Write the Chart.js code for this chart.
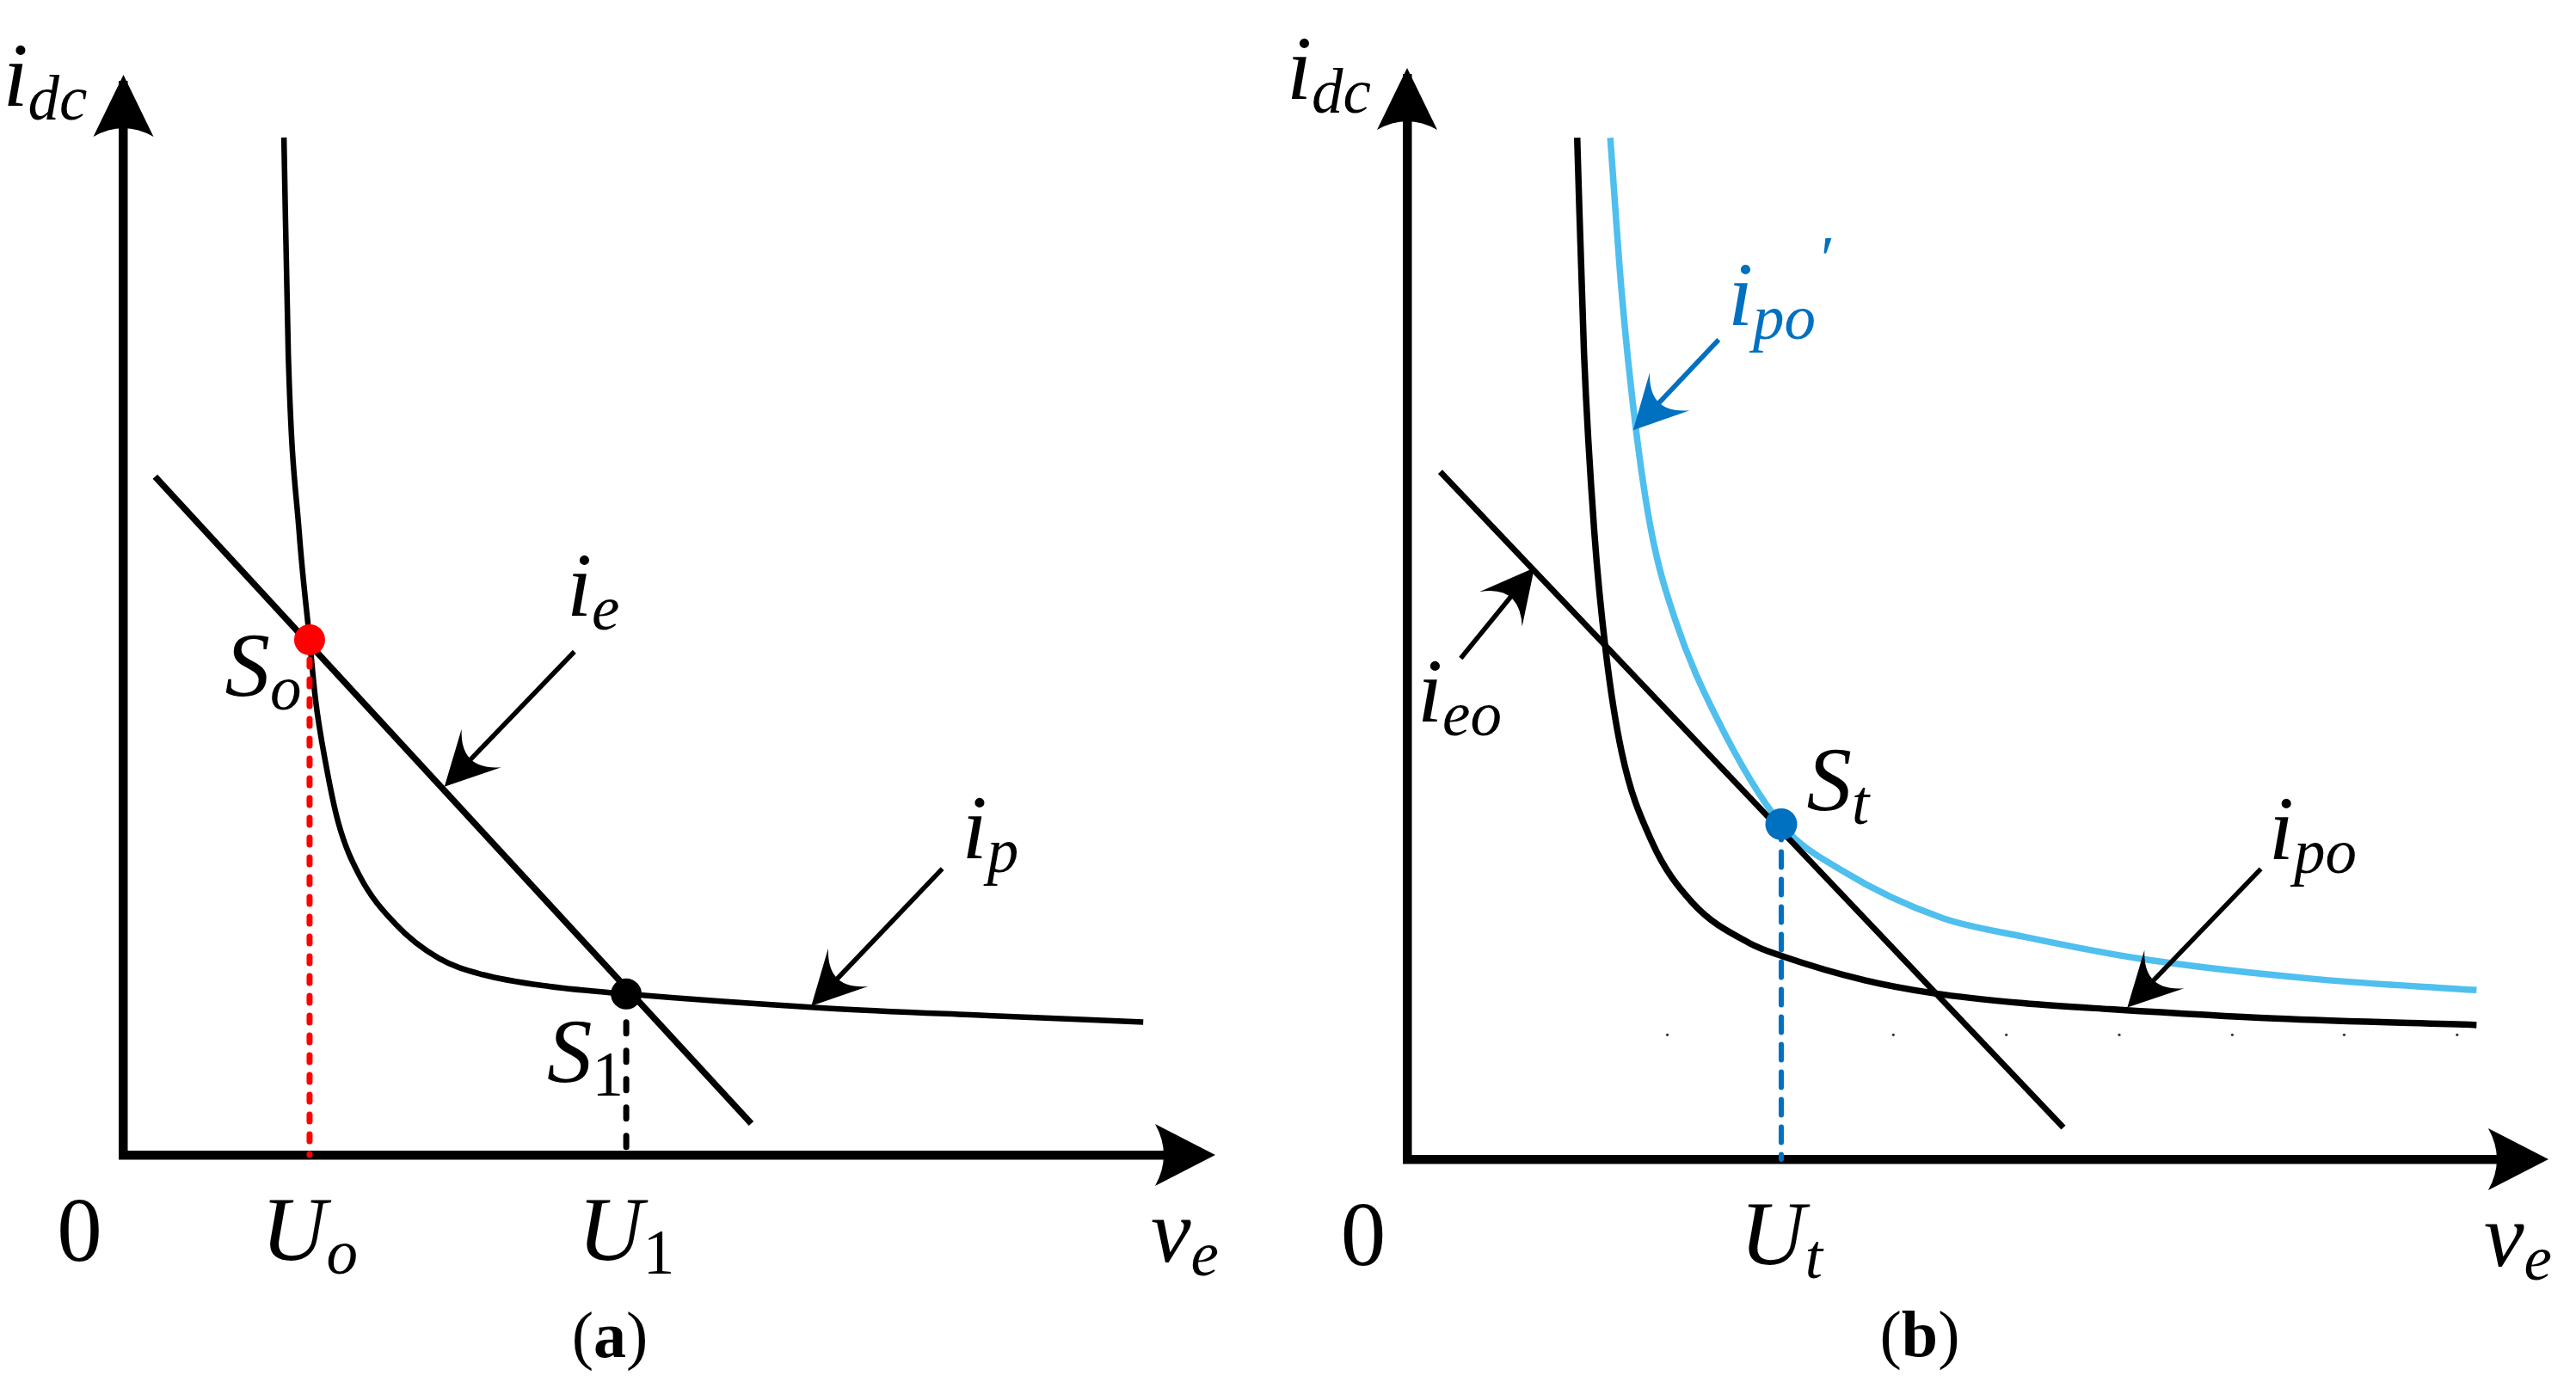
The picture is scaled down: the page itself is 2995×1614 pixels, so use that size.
<!DOCTYPE html>
<html><head><meta charset="utf-8">
<script src="https://cdn.jsdelivr.net/npm/chart.js@4.4.1/dist/chart.umd.min.js"></script>
<style>
html,body{margin:0;padding:0;background:#fff;overflow:hidden;}
#wrap{position:relative;width:2995px;height:1614px;background:#fff;}
canvas{position:absolute;top:0;}
</style></head><body>
<div id="wrap">
<canvas id="ca" width="1497" height="1614" style="left:0px"></canvas>
<canvas id="cb" width="1498" height="1614" style="left:1497px"></canvas>
</div>
<script>
// ================= DATA =================
// Panel (a)
const aIpX = [1.47, 1.51, 1.61, 1.705, 1.76, 1.85, 1.97, 2.16, 2.49, 2.89, 3.29, 3.90, 4.605, 6.42, 7.92, 9.34];
const aIpY = [9.42, 7.41, 5.76, 4.77, 4.21, 3.64, 3.07, 2.59, 2.14, 1.82, 1.67, 1.56, 1.49, 1.36, 1.29, 1.23];
const aIeX = [0.29, 5.75];
const aIeY = [6.28, 0.29];
const aPointNames = ['S_o', 'S_1'];
const aPointX = [1.705, 4.605];
const aPointY = [4.77, 1.49];
const aTickVals = [1.705, 4.605];
const aTickLabels = ['U_o', 'U_1'];

// Panel (b)
const bIpoX = [1.49, 1.55, 1.64, 1.74, 1.88, 2.14, 2.50, 3.00, 3.29, 4.01, 4.62, 5.40, 6.16, 7.60, 9.37];
const bIpoY = [9.36, 7.38, 5.75, 4.66, 3.73, 2.92, 2.35, 1.98, 1.86, 1.64, 1.52, 1.43, 1.375, 1.29, 1.23];
const bIpoPX = [1.78, 1.88, 2.00, 2.14, 2.35, 2.71, 3.278, 3.82, 4.69, 5.40, 6.41, 7.97, 9.37];
const bIpoPY = [9.36, 7.94, 6.73, 5.75, 4.94, 4.05, 3.07, 2.64, 2.21, 2.04, 1.84, 1.65, 1.55];
const bIeoX = [0.29, 5.75];
const bIeoY = [6.30, 0.29];
const bPointNames = ['S_t'];
const bPointX = [3.278];
const bPointY = [3.07];
const bTickVals = [3.278];
const bTickLabels = ['U_t'];
const bDotsX = [2.28, 4.26, 5.25, 6.24, 7.23, 8.21, 9.20];
const bDotsY = [1.14, 1.14, 1.14, 1.14, 1.14, 1.14, 1.14];

const axisLabels = { x: 'v_e', y: 'i_dc', origin: '0' };

// ================= helpers =================
const SERIF = '"Liberation Serif","Times New Roman",serif';
const MAIN = 105, SUB = 73, SUBDROP = 16;
function fnt(size, italic, bold) { return (italic ? 'italic ' : '') + (bold ? 'bold ' : '') + size + 'px ' + SERIF; }
function isNum(s) { return /^[0-9]+$/.test(s); }
function zip(xs, ys) { return xs.map((x, i) => ({ x: x, y: ys[i] })); }
function split(label) { const p = label.split('_'); return { main: p[0], sub: p[1] || '' }; }

function drawLabel(ctx, x, y, label, opt) {
  opt = opt || {};
  const { main, sub } = split(label);
  ctx.save();
  ctx.fillStyle = opt.color || '#000';
  ctx.textBaseline = 'alphabetic';
  ctx.textAlign = 'left';
  ctx.font = fnt(MAIN, !isNum(main));
  const wm = ctx.measureText(main).width;
  ctx.font = fnt(SUB, !isNum(sub));
  const ws = sub ? ctx.measureText(sub).width : 0;
  const total = wm + ws;
  let x0 = x;
  if (opt.align === 'center') x0 = x - total / 2;
  else if (opt.align === 'right') x0 = x - total;
  ctx.font = fnt(MAIN, !isNum(main));
  ctx.fillText(main, x0, y);
  if (sub) {
    ctx.font = fnt(SUB, !isNum(sub));
    ctx.fillText(sub, x0 + wm, y + SUBDROP);
  }
  if (opt.prime) {
    ctx.font = fnt(SUB, false);
    ctx.fillText('\u2032', x0 + total + 6, y - 52);
  }
  ctx.restore();
}

function arrowHead(ctx, tx, ty, ux, uy, len, half, notch) {
  const bx = tx - ux * len, by = ty - uy * len;
  const px = -uy, py = ux;
  const c = 2 * notch - len;
  ctx.beginPath();
  ctx.moveTo(tx, ty);
  ctx.lineTo(bx + px * half, by + py * half);
  ctx.quadraticCurveTo(tx - ux * c, ty - uy * c, bx - px * half, by - py * half);
  ctx.closePath();
  ctx.fill();
}

function annArrow(ctx, x1, y1, x2, y2, color) {
  const dx = x2 - x1, dy = y2 - y1, L = Math.hypot(dx, dy);
  const ux = dx / L, uy = dy / L;
  ctx.save();
  ctx.strokeStyle = color; ctx.fillStyle = color;
  ctx.lineWidth = 5.5; ctx.lineCap = 'butt';
  ctx.beginPath(); ctx.moveTo(x1, y1); ctx.lineTo(x2 - ux * 40, y2 - uy * 40); ctx.stroke();
  arrowHead(ctx, x2, y2, ux, uy, 62, 32, 44);
  ctx.restore();
}

// Decorations: axis arrowheads, axis labels, annotations, caption
function decoPlugin(cfg) {
  return {
    id: 'deco',
    afterDraw(chart) {
      const ctx = chart.ctx, xs = chart.scales.x, ys = chart.scales.y;
      const X = v => xs.getPixelForValue(v), Y = v => ys.getPixelForValue(v);
      const ox = X(0), oy = Y(0), tipX = X(10), tipY = Y(10);
      ctx.save();
      ctx.fillStyle = '#000';
      arrowHead(ctx, tipX, oy, 1, 0, 70, 36, 60);
      arrowHead(ctx, ox, tipY, 0, -1, 72, 35, 62);
      ctx.restore();
      // axis labels
      drawLabel(ctx, ox - 51, oy + 123, axisLabels.origin, { align: 'center' });
      drawLabel(ctx, tipX + 4, oy + 124, axisLabels.x, { align: 'right' });
      drawLabel(ctx, ox - 42, tipY + 36, axisLabels.y, { align: 'right' });
      cfg.tickVals.forEach((v, i) => drawLabel(ctx, X(v), oy + 122, cfg.tickLabels[i], { align: 'center' }));
      // annotations
      cfg.arrows.forEach(a => annArrow(ctx, X(a.from[0]), Y(a.from[1]), X(a.to[0]), Y(a.to[1]), a.color || '#000'));
      cfg.labels.forEach(l => drawLabel(ctx, X(l.at[0]), Y(l.at[1]), l.text, { color: l.color, prime: l.prime }));
      // caption
      ctx.save();
      ctx.fillStyle = '#000'; ctx.textBaseline = 'alphabetic';
      ctx.font = fnt(76, false, false); const wp = ctx.measureText('(').width;
      ctx.font = fnt(76, false, true); const wl = ctx.measureText(cfg.caption).width;
      let cx = cfg.captionX - (2 * wp + wl) / 2;
      ctx.font = fnt(76, false, false); ctx.fillText('(', cx, cfg.captionY);
      ctx.font = fnt(76, false, true); ctx.fillText(cfg.caption, cx + wp, cfg.captionY);
      ctx.font = fnt(76, false, false); ctx.fillText(')', cx + wp + wl, cfg.captionY);
      ctx.restore();
    }
  };
}

function scaleOpts(max) {
  return {
    type: 'linear', min: 0, max: max, display: true,
    grid: { display: false, drawTicks: false },
    ticks: { display: false },
    border: { display: true, color: '#000', width: 10.5 }
  };
}

function makeChart(id, datasets, padding, max, cfg) {
  return new Chart(document.getElementById(id), {
    type: 'scatter',
    data: { datasets: datasets },
    options: {
      responsive: false, animation: false, devicePixelRatio: 1,
      layout: { padding: padding },
      plugins: { legend: { display: false }, tooltip: { enabled: false } },
      scales: { x: scaleOpts(max), y: scaleOpts(max) },
      events: []
    },
    plugins: [decoPlugin(cfg)]
  });
}

function curve(xs, ys, color, width, order) {
  return { data: zip(xs, ys), showLine: true, borderColor: color, borderWidth: width, pointRadius: 0,
    cubicInterpolationMode: 'monotone', clip: false, order: order };
}
function straight(xs, ys, color, width, order, dash) {
  return { data: zip(xs, ys), showLine: true, borderColor: color, borderWidth: width, pointRadius: 0,
    tension: 0, clip: false, order: order, borderDash: dash || [], borderCapStyle: dash ? 'round' : 'butt' };
}
function dots(xs, ys, colors, r, order) {
  return { data: zip(xs, ys), showLine: false, pointRadius: r, pointBackgroundColor: colors,
    pointBorderWidth: 0, clip: false, order: order };
}

// ---------- Panel (a) ----------
makeChart('ca', [
  dots(aPointX, aPointY, ['#FF0000', '#000000'], 18, 0),
  straight([aPointX[0], aPointX[0]], [aPointY[0], 0], '#FF0000', 7, 1, [8, 15]),
  straight([aPointX[1], aPointX[1]], [aPointY[1], 0], '#000000', 7, 1, [13, 20]),
  straight(aIeX, aIeY, '#000000', 7.5, 2),
  curve(aIpX, aIpY, '#000000', 6.5, 3)
], { left: 143.5, right: 96.7, top: 99.6, bottom: 271 }, 9.9, {
  tickVals: aTickVals, tickLabels: aTickLabels,
  arrows: [
    { from: [4.13, 4.66], to: [2.94, 3.41] },
    { from: [7.50, 2.65], to: [6.30, 1.38] }
  ],
  labels: [
    { at: [4.06, 4.99], text: 'i_e' },
    { at: [7.68, 2.75], text: 'i_p' },
    { at: [0.93, 4.25], text: aPointNames[0] },
    { at: [3.88, 0.68], text: aPointNames[1] }
  ],
  caption: 'a', captionX: 709, captionY: 1578
});

// ---------- Panel (b) ----------
makeChart('cb', [
  dots(bPointX, bPointY, ['#0070C0'], 18.5, 0),
  straight([bPointX[0], bPointX[0]], [bPointY[0], 0], '#0070C0', 6, 1, [18, 14]),
  straight(bIeoX, bIeoY, '#000000', 7, 2),
  curve(bIpoPX, bIpoPY, '#4FBFEE', 7.5, 3),
  curve(bIpoX, bIpoY, '#000000', 7.5, 4),
  dots(bDotsX, bDotsY, ['#333333'], 1.6, 5)
], { left: 139, right: 45.3, top: 91.7, bottom: 266 }, 9.9, {
  tickVals: bTickVals, tickLabels: bTickLabels,
  arrows: [
    { from: [2.73, 7.51], to: [1.98, 6.68], color: '#0070C0' },
    { from: [0.47, 4.59], to: [1.115, 5.42] },
    { from: [7.48, 2.66], to: [6.31, 1.39] }
  ],
  labels: [
    { at: [2.81, 7.64], text: 'i_po', color: '#0070C0', prime: true },
    { at: [0.09, 4.01], text: 'i_eo' },
    { at: [3.50, 3.20], text: bPointNames[0] },
    { at: [7.55, 2.75], text: 'i_po' }
  ],
  caption: 'b', captionX: 735, captionY: 1577
});
</script>
</body></html>
